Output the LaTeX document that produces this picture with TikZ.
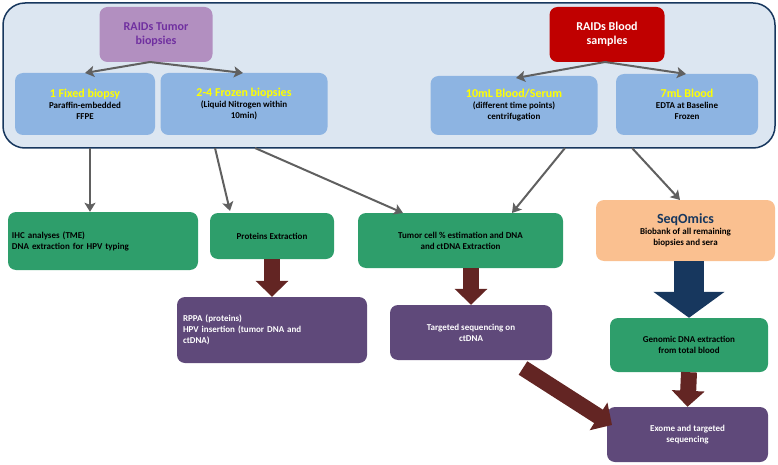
\documentclass[tikz,border=0pt]{standalone}
\usepackage{fontspec}
\setmainfont{Carlito}
\usetikzlibrary{arrows.meta}
\definecolor{panel}{HTML}{DCE6F1}
\definecolor{navy}{HTML}{17375E}
\definecolor{sky}{HTML}{8DB4E2}
\definecolor{lilac}{HTML}{B28FC0}
\definecolor{plum}{HTML}{7030A0}
\definecolor{crimson}{HTML}{C00000}
\definecolor{leaf}{HTML}{2E9E6B}
\definecolor{grape}{HTML}{5F497A}
\definecolor{peach}{HTML}{FAC090}
\definecolor{rust}{HTML}{632523}
\definecolor{gold}{HTML}{FFFF00}
\tikzset{
  box/.style={rounded corners=8pt, align=center, inner sep=2pt, font=\bfseries\fontsize{9}{11}\selectfont},
  src/.style={box, font=\bfseries\fontsize{12}{14}\selectfont},
  thin/.style={draw=gray!75!black, line width=2pt, -{Stealth[length=9pt,width=11pt,inset=2pt]}},
  fat/.style={draw=rust, line width=16pt, -{Triangle[length=16pt,width=32pt]}, shorten >=0pt},
}
\newcommand{\ttl}[1]{{\fontsize{12}{14}\selectfont\color{gold}#1}\\}
\begin{document}
\begin{tikzpicture}[x=1pt,y=-1pt]
  \useasboundingbox (0,0) rectangle (778,465);
  % top panel
  \draw[navy, fill=panel, line width=1.5pt, rounded corners=22pt] (3,3) rectangle (775,148);

  \node[src, fill=lilac, text=plum, minimum width=113pt, minimum height=55pt] (tumor) at (156,34.5) {RAIDs Tumor\\biopsies};
  \node[src, fill=crimson, text=white, minimum width=115pt, minimum height=55pt] (blood) at (607,34.5) {RAIDs Blood\\samples};

  \node[box, fill=sky, minimum width=140pt, minimum height=62pt] (fixed) at (85,104) {\ttl{1 Fixed biopsy}Paraffin-embedded\\FFPE};
  \node[box, fill=sky, minimum width=167pt, minimum height=62pt] (frozen) at (244,104) {\ttl{2-4 Frozen biopsies}(Liquid Nitrogen within\\10min)};
  \node[box, fill=sky, minimum width=167pt, minimum height=59pt] (serum) at (514,105.5) {\ttl{10mL Blood/Serum}(different time points)\\centrifugation};
  \node[box, fill=sky, minimum width=142pt, minimum height=61pt] (edta) at (687,104.5) {\ttl{7mL Blood}EDTA at Baseline\\Frozen};

  \coordinate (tb) at (150,62);
  \coordinate (bb) at (605,62);
  \draw[thin] (tb) -- (85,73);
  \draw[thin] (tb) -- (243,73);
  \draw[thin] (bb) -- (516,78);
  \draw[thin] (bb) -- (686,74);

  % lower row
  \node[box, fill=leaf, minimum width=190pt, minimum height=58pt, align=left, text width=182pt] (ihc) at (103,241) {IHC analyses (TME)\\DNA extraction for HPV typing};
  \node[box, fill=leaf, minimum width=124pt, minimum height=46pt] (prot) at (272,236) {Proteins Extraction};
  \node[box, fill=leaf, minimum width=205pt, minimum height=55pt] (cell) at (460.5,240.5) {Tumor cell \% estimation and DNA\\and ctDNA Extraction};
  \node[box, fill=peach, minimum width=179pt, minimum height=61pt] (seq) at (685.5,230.5) {{\fontsize{14}{16}\selectfont\color{navy}SeqOmics}\\Biobank of all remaining\\biopsies and sera};

  \node[box, fill=grape, text=white, minimum width=190pt, minimum height=66pt, align=left, text width=178pt] (rppa) at (272,330) {RPPA (proteins)\\HPV insertion (tumor DNA and\\ctDNA)};
  \node[box, fill=grape, text=white, minimum width=162pt, minimum height=55pt] (target) at (471,332.5) {Targeted sequencing on\\ctDNA};
  \node[box, fill=leaf, minimum width=158pt, minimum height=54pt] (geno) at (689,345) {Genomic DNA extraction\\from total blood};
  \node[box, fill=grape, text=white, minimum width=161pt, minimum height=55pt] (exome) at (687.5,434.5) {Exome and targeted\\sequencing};

  \coordinate (p1) at (90,148);
  \coordinate (p2) at (215,148);
  \coordinate (p3) at (255,148);
  \coordinate (p4) at (565,148);
  \coordinate (p5) at (632,148);
  \draw[thin] (p1) -- (ihc.north -| p1);
  \draw[thin] (p2) -- (230,211);
  \draw[thin] (p3) -- (403,213);
  \draw[thin] (p4) -- (512,213);
  \draw[thin] (p5) -- (680,200);

  \draw[fat] (prot.south) -- (rppa.north);
  \draw[fat] (cell.south -| target) -- (target.north);
  \draw[fat] (523,368) -- (612,425);
  \draw[fat] (geno.south) -- (exome.north);
  \draw[fat, draw=navy, line width=30pt, -{Triangle[length=26pt,width=70pt]}] (seq.south -| geno) -- (geno.north);
\end{tikzpicture}
\end{document}
